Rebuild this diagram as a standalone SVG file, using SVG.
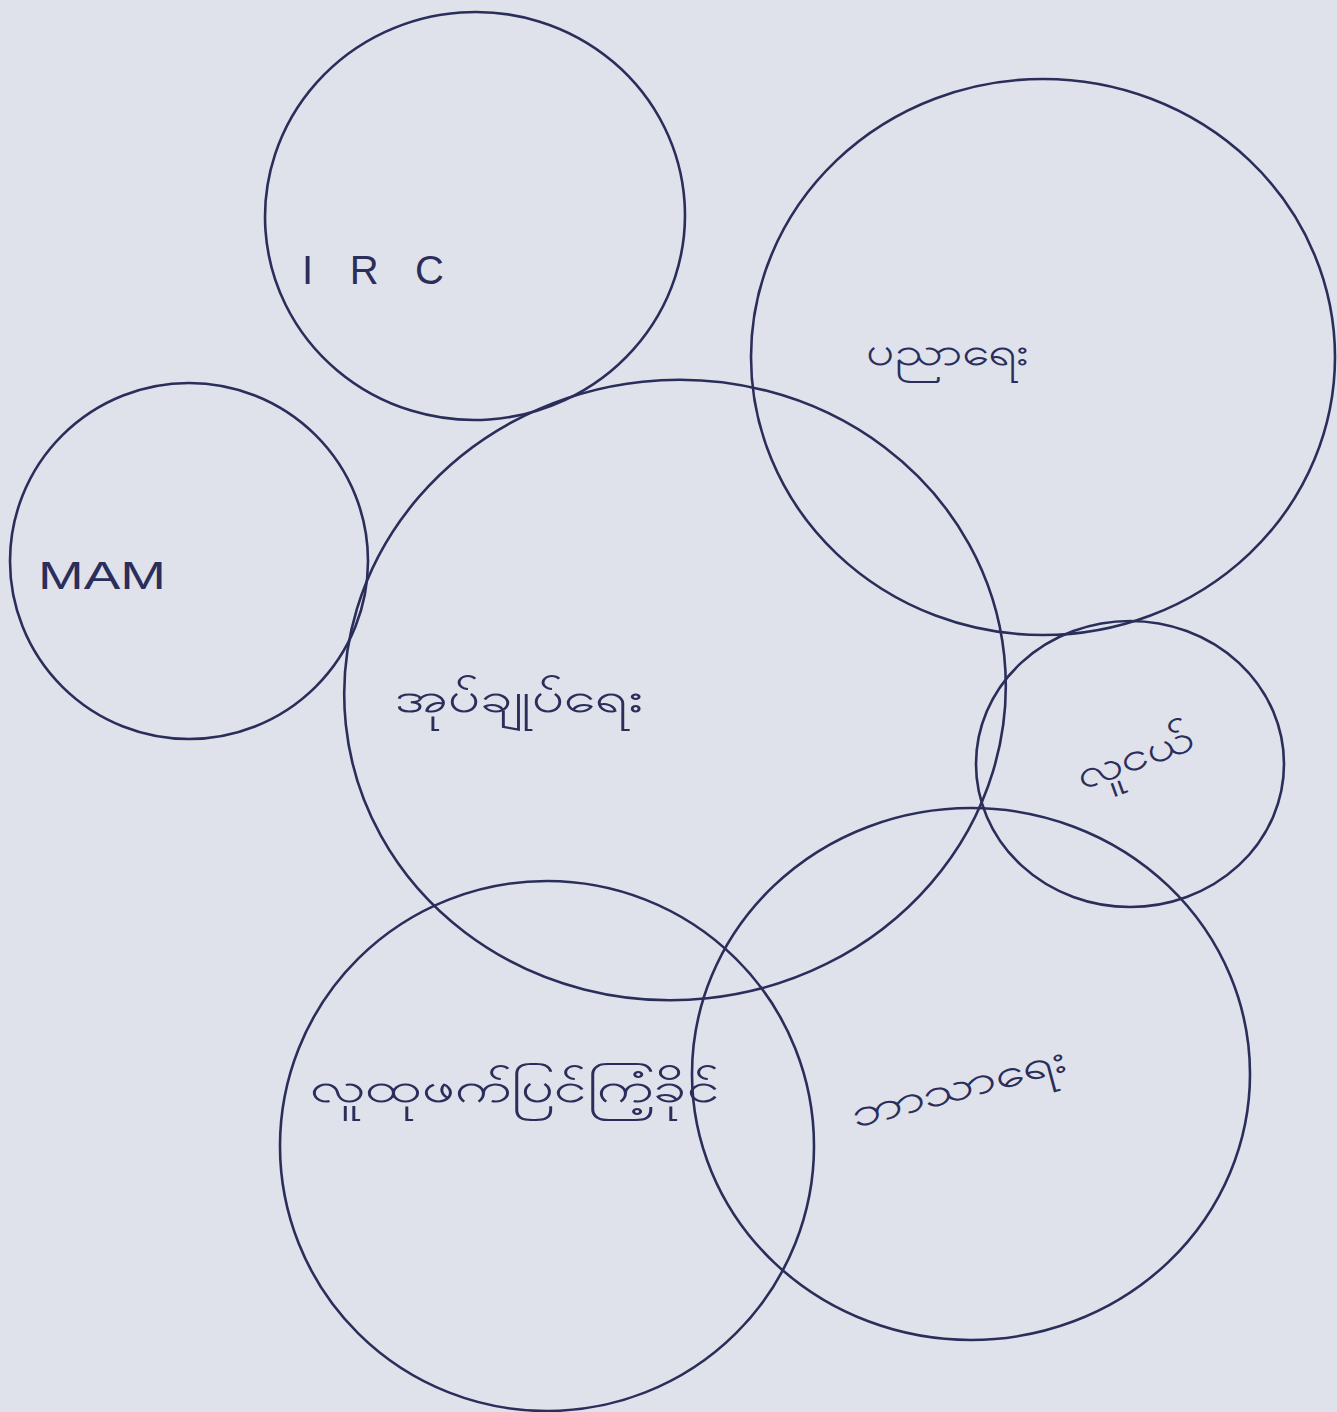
<svg xmlns="http://www.w3.org/2000/svg" width="1337" height="1412" viewBox="0 0 1337 1412">
  <style>
    .c { fill: none; stroke: #2b2e5a; stroke-width: 2.6; }
    .t { fill: #2b2e5a; font-family: "Noto Sans", "DejaVu Sans", sans-serif; }
    .lat { font-family: "Liberation Sans", sans-serif; }
  </style>
  <rect width="1337" height="1412" fill="#dfe2eb"/>
  <g id="node-irc">
    <ellipse class="c" cx="475" cy="216" rx="210" ry="204" transform="rotate(-4 475 216)"/>
    <text class="t lat" x="302" y="284" font-size="40" textLength="142" lengthAdjust="spacing">IRC</text>
  </g>
  <g id="node-education">
    <ellipse class="c" cx="1043" cy="357" rx="292" ry="278"/>
    <text class="t" x="866" y="365" font-size="40" textLength="164" lengthAdjust="spacingAndGlyphs">ပညာရေး</text>
  </g>
  <g id="node-mam">
    <ellipse class="c" cx="189" cy="561" rx="179" ry="178"/>
    <text class="t lat" x="38" y="589" font-size="38" textLength="128" lengthAdjust="spacingAndGlyphs">MAM</text>
  </g>
  <g id="node-admin">
    <ellipse class="c" cx="675" cy="690" rx="331" ry="310" transform="rotate(-6 675 690)"/>
    <text class="t" x="395" y="712" font-size="42" textLength="248" lengthAdjust="spacingAndGlyphs">အုပ်ချုပ်ရေး</text>
  </g>
  <g id="node-youth">
    <ellipse class="c" cx="1130" cy="764" rx="154" ry="143"/>
    <text class="t" x="1082" y="790" font-size="40" textLength="122" lengthAdjust="spacingAndGlyphs" transform="rotate(-20 1082 790)">လူငယ်</text>
  </g>
  <g id="node-religion">
    <ellipse class="c" cx="971" cy="1074" rx="279" ry="266"/>
    <text class="t" x="855" y="1128" font-size="40" textLength="222" lengthAdjust="spacingAndGlyphs" transform="rotate(-15 855 1128)">ဘာသာရေး</text>
  </g>
  <g id="node-community">
    <ellipse class="c" cx="547" cy="1146" rx="267" ry="265"/>
    <text class="t" x="310" y="1102" font-size="42" textLength="410" lengthAdjust="spacingAndGlyphs">လူထုဖက်ပြင်ကြံ့ခိုင်</text>
  </g>
  <g id="connectors"/>
</svg>
